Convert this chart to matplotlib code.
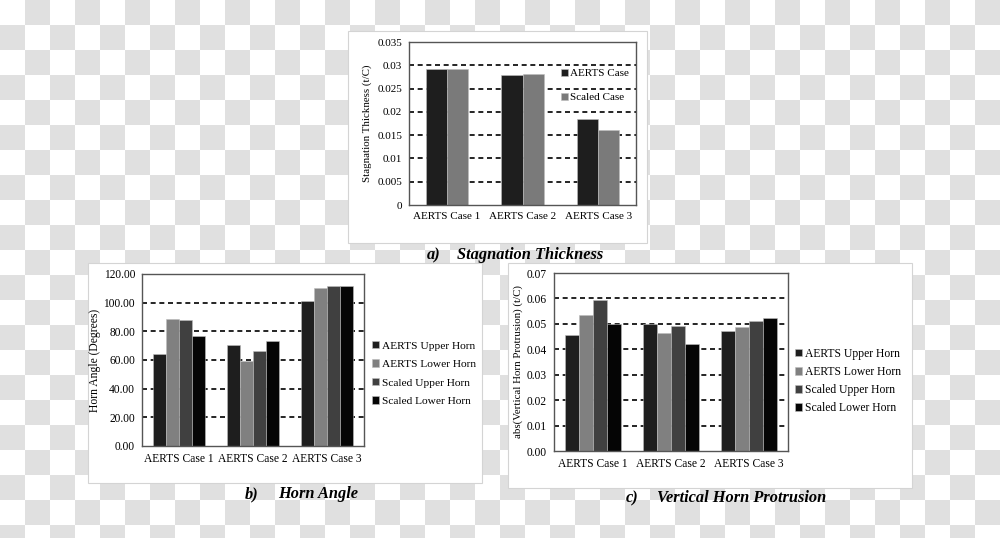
import matplotlib
matplotlib.use('Agg')
import matplotlib.pyplot as plt
import numpy as np
from matplotlib.colors import ListedColormap
from matplotlib.patches import Rectangle

plt.rcParams['font.family'] = ['Liberation Serif', 'DejaVu Serif']

# ---- data ----
cases = ['AERTS Case 1', 'AERTS Case 2', 'AERTS Case 3']

stag_series = ['AERTS Case', 'Scaled Case']
stag_aerts = [0.0291, 0.0280, 0.0184]
stag_scaled = [0.0291, 0.0281, 0.0161]
stag_ticks = [0, 0.005, 0.01, 0.015, 0.02, 0.025, 0.03, 0.035]
stag_ticklabels = ['0', '0.005', '0.01', '0.015', '0.02', '0.025', '0.03', '0.035']

horn_series = ['AERTS Upper Horn', 'AERTS Lower Horn', 'Scaled Upper Horn', 'Scaled Lower Horn']
angle_aerts_upper = [64.0, 70.2, 101.0]
angle_aerts_lower = [88.9, 59.6, 110.0]
angle_scaled_upper = [88.0, 66.1, 111.5]
angle_scaled_lower = [76.8, 73.0, 111.3]
angle_ticks = [0, 20, 40, 60, 80, 100, 120]

prot_aerts_upper = [0.0458, 0.0500, 0.0472]
prot_aerts_lower = [0.0534, 0.0464, 0.0488]
prot_scaled_upper = [0.0595, 0.0491, 0.0511]
prot_scaled_lower = [0.0500, 0.0420, 0.0524]
prot_ticks = [0, 0.01, 0.02, 0.03, 0.04, 0.05, 0.06, 0.07]

colors2 = ['#1e1e1e', '#7a7a7a']
colors4 = ['#1e1e1e', '#808080', '#404040', '#050505']

W, H = 1000, 538
fig = plt.figure(figsize=(W / 100, H / 100), dpi=100)

# checkerboard "transparent" background, drawn in pixel coordinates
bg = fig.add_axes([0, 0, 1, 1])
nrow, ncol = 22, 40
checker = np.indices((nrow, ncol)).sum(axis=0) % 2
bg.imshow(checker, cmap=ListedColormap(['white', '#e0e0e0']),
          extent=(0, ncol * 25, nrow * 25, 0), interpolation='nearest', aspect='auto')
bg.set_xlim(0, W)
bg.set_ylim(H, 0)
bg.axis('off')

for x0, y0, x1, y1 in [(348, 31, 647, 243), (88, 263, 482, 483), (508, 263, 912, 488)]:
    bg.add_patch(Rectangle((x0, y0), x1 - x0, y1 - y0, facecolor='white',
                           edgecolor='#d4d4d4', lw=0.8))

tfont = dict(fontsize=11.8, fontweight='bold', fontstyle='italic', va='center')
bg.text(427, 255, 'a)', **tfont)
bg.text(457, 255, 'Stagnation Thickness', **tfont)
bg.text(245, 494, 'b)', **tfont)
bg.text(278, 494, 'Horn Angle', **tfont)
bg.text(626, 498, 'c)', **tfont)
bg.text(657, 498, 'Vertical Horn Protrusion', **tfont)


def px_axes(left, top, right, bottom):
    return fig.add_axes([left / W, 1 - bottom / H, (right - left) / W, (bottom - top) / H])


def style_axes(ax, ticks, ticklabels, fs):
    ax.set_xlim(-0.5, 2.5)
    ax.set_ylim(ticks[0], ticks[-1])
    ax.set_yticks(ticks)
    ax.set_yticklabels(ticklabels, fontsize=fs)
    ax.set_xticks(range(len(cases)))
    ax.set_xticklabels(cases, fontsize=fs)
    ax.tick_params(length=0, pad=5)
    for t in ticks[1:-1]:
        ax.axhline(t, color='black', lw=1.2, ls=(0, (3, 2.2)), zorder=1)
    for s in ax.spines.values():
        s.set_color('#555555')
        s.set_linewidth(1.0)


def px_legend(ax, handles, labels, x, y_mid, fs, spacing):
    ax.legend(handles, labels, loc='center left',
              bbox_to_anchor=(x / W, 1 - y_mid / H), bbox_transform=fig.transFigure,
              frameon=False, fontsize=fs, handlelength=0.6, handleheight=0.6,
              handletextpad=0.25, labelspacing=spacing, borderpad=0, borderaxespad=0)


x = np.arange(len(cases))

# ---- a) stagnation thickness ----
ax1 = px_axes(409, 42, 636, 205)
bw = 0.28
h1 = []
for i, vals in enumerate([stag_aerts, stag_scaled]):
    h1.append(ax1.bar(x + (i - 0.5) * bw, vals, bw, color=colors2[i],
                      edgecolor='#bdbdbd', lw=0.4, zorder=2))
style_axes(ax1, stag_ticks, stag_ticklabels, 8)
ax1.set_ylabel('Stagnation Thickness (t/C)', fontsize=7.8, labelpad=4)
px_legend(ax1, h1, stag_series, 561, 85.5, 8, 1.3)

# ---- b) horn angle ----
ax2 = px_axes(142, 274, 364, 446)
bw = 0.178
h2 = []
for i, vals in enumerate([angle_aerts_upper, angle_aerts_lower,
                          angle_scaled_upper, angle_scaled_lower]):
    h2.append(ax2.bar(x + (i - 1.5) * bw, vals, bw, color=colors4[i],
                      edgecolor='#bdbdbd', lw=0.4, zorder=2))
style_axes(ax2, angle_ticks, ['%.2f' % t for t in angle_ticks], 8.3)
ax2.set_ylabel('Horn Angle (Degrees)', fontsize=8.4, labelpad=2)
px_legend(ax2, h2, horn_series, 372, 373.5, 8.2, 0.78)

# ---- c) vertical horn protrusion ----
ax3 = px_axes(554, 273, 788, 451)
bw = 0.18
h3 = []
for i, vals in enumerate([prot_aerts_upper, prot_aerts_lower,
                          prot_scaled_upper, prot_scaled_lower]):
    h3.append(ax3.bar(x + (i - 1.5) * bw, vals, bw, color=colors4[i],
                      edgecolor='#bdbdbd', lw=0.4, zorder=2))
style_axes(ax3, prot_ticks, ['%.2f' % t for t in prot_ticks], 8.3)
ax3.set_ylabel('abs(Vertical Horn Protrusion) (t/C)', fontsize=7.8, labelpad=3)
px_legend(ax3, h3, horn_series, 795, 381, 8.4, 0.52)

fig.savefig('out.png', dpi=100)
